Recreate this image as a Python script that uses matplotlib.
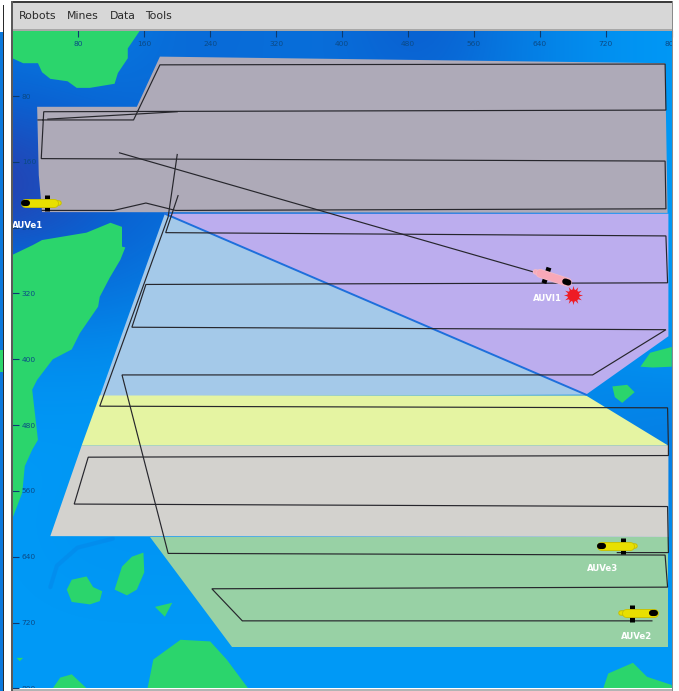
import numpy as np
import matplotlib
matplotlib.use("Agg")
import matplotlib.pyplot as plt
from matplotlib.colors import LinearSegmentedColormap
from matplotlib.patches import Polygon, Rectangle

WIDTH, HEIGHT = 679, 691
MAP_LEFT, MAP_TOP, MAP_RIGHT, MAP_BOTTOM = 12.4, 30.3, 671.7, 688.3

menu_items = ["Robots", "Mines", "Data", "Tools"]
menu_px = [19, 67, 110, 145]
tick_values = list(range(80, 801, 80))

# sea depth read every 100 map units, 0 = deep, 1 = shallow
depth = [
    [0.70, 0.80, 0.55, 0.60, 0.62, 0.40, 0.70, 0.90, 1.00],
    [0.45, 0.50, 0.60, 0.60, 0.60, 0.60, 0.70, 0.90, 1.00],
    [0.05, 0.42, 0.55, 0.60, 0.60, 0.60, 0.70, 0.90, 1.00],
    [0.70, 0.55, 0.72, 0.70, 0.70, 0.70, 0.75, 0.90, 1.00],
    [0.90, 0.90, 0.95, 0.90, 0.90, 0.90, 0.90, 0.90, 0.95],
    [1.00, 1.00, 1.00, 0.95, 0.95, 0.95, 0.95, 0.75, 0.70],
    [1.00, 0.95, 0.95, 0.95, 0.95, 0.95, 0.95, 0.90, 0.85],
    [1.00, 1.00, 1.00, 1.00, 1.00, 1.00, 1.00, 1.00, 1.00],
    [1.00, 1.00, 1.00, 1.00, 1.00, 1.00, 1.00, 1.00, 1.00],
]
trench = [(46, 677), (54, 651), (79, 629), (122, 618)]

land = [
    [(0, 34), (13, 40), (31, 40), (36, 51), (46, 59), (67, 62), (78, 70), (94, 70), (124, 65),
     (128, 52), (140, 34), (140, 22), (155, 0), (0, 0)],
    [(0, 273), (25, 261), (36, 255), (90, 246), (119, 234), (133, 239), (133, 263), (137, 264),
     (131, 279), (118, 301), (106, 324), (104, 336), (82, 368), (72, 388), (49, 400), (30, 425),
     (24, 437), (31, 498), (24, 510), (15, 530), (12, 562), (1, 591), (0, 591)],
    [(66, 680), (72, 668), (90, 664), (98, 677), (109, 682), (106, 694), (94, 698), (72, 695)],
    [(159, 635), (145, 640), (133, 652), (124, 680), (139, 687), (151, 680), (160, 659)],
    [(173, 701), (194, 696), (185, 713)],
    [(5, 763), (13, 763), (9, 767)],
    [(164, 800), (171, 765), (204, 741), (240, 743), (260, 765), (286, 800)],
    [(49, 800), (58, 787), (72, 783), (90, 800)],
    [(717, 800), (723, 782), (753, 769), (770, 786), (800, 796), (800, 800)],
    [(762, 409), (774, 392), (800, 385), (800, 409), (777, 410)],
    [(728, 433), (746, 431), (755, 440), (740, 453), (731, 446)],
]

zone_grey = [(179, 32), (792, 40), (795, 222), (36, 221), (32, 176), (30, 93), (151, 93)]
zone_purple = [(185, 223), (796, 223), (796, 372), (696, 443)]
zone_blue = [(185, 223), (696, 443), (106, 445)]
zone_yellow = [(106, 444), (696, 444), (796, 505), (84, 505)]
zone_light = [(84, 505), (796, 505), (796, 616), (46, 615)]
zone_green = [(167, 616), (796, 616), (796, 750), (267, 750)]
divider = [(185, 223), (696, 443)]

track_a = [(201, 201), (186, 246), (793, 250), (795, 307), (162, 309), (145, 361), (793, 364),
           (704, 419), (133, 419), (189, 636), (792, 638), (795, 677), (242, 679), (279, 718),
           (776, 718)]
track_b = [(200, 151), (189, 227), (106, 457), (795, 459), (796, 506), (796, 517), (92, 519),
           (75, 576), (795, 579), (796, 635), (734, 635)]
track_c = [(31, 109), (147, 109), (179, 42), (792, 41), (793, 97), (38, 99), (35, 156), (792, 159),
           (793, 217), (198, 219), (162, 210), (123, 219), (36, 219)]
track_d = [(43, 108), (200, 99)]
track_e = [(130, 149), (640, 296)]

vehicle_names = ["AUVe1", "AUVe3", "AUVe2", "AUVI1"]
vehicle_x = [42, 741, 752, 648]
vehicle_y = [210, 627, 709, 298]
vehicle_heading = [180, 180, 0, 18]
vehicle_colors = ["#e8e000", "#e8e000", "#e8e000", "#f8a8b8"]
vehicle_edges = ["#c8c000", "#c8c000", "#c8c000", "#f3b9c6"]
label_x = [18, 716, 757, 649]
label_y = [237, 654, 737, 326]

mine_x = [680]
mine_y = [322]


def add_zone(ax, points, color, z):
    ax.add_patch(Polygon(points, closed=True, facecolor=color, edgecolor="none", zorder=z))


def add_track(ax, points, lw=0.85):
    xs, ys = zip(*points)
    ax.plot(xs, ys, color="#26262c", lw=lw, solid_joinstyle="miter", zorder=5)


def add_vehicle(ax, x, y, heading, color, edge):
    h = np.deg2rad(heading)
    d = np.array([np.cos(h), np.sin(h)])
    n = np.array([-d[1], d[0]])
    c = np.array([x, y])
    nose = c + d * 27
    tail = c - d * 8
    end = c - d * 14
    ax.plot(*zip(c - n * 10, c + n * 10), color="black", lw=3.6, solid_capstyle="butt", zorder=6)
    ax.plot(*zip(tail, end), color=edge, lw=4.0, solid_capstyle="round", zorder=7)
    ax.plot(*zip(tail, end), color=color, lw=2.6, solid_capstyle="round", zorder=7)
    ax.plot(*zip(nose, tail), color=edge, lw=6.4, solid_capstyle="round", zorder=7)
    ax.plot(*zip(nose, tail), color=color, lw=5.2, solid_capstyle="round", zorder=8)
    ax.plot(*zip(c + d * 24, c + d * 28), color="black", lw=4.4, solid_capstyle="round", zorder=9)


def px_rect(fig, x0, y0, x1, y1, color):
    fig.patches.append(Rectangle((x0 / WIDTH, 1 - y1 / HEIGHT), (x1 - x0) / WIDTH, (y1 - y0) / HEIGHT,
                                 transform=fig.transFigure, facecolor=color, edgecolor="none",
                                 figure=fig))


fig = plt.figure(figsize=(WIDTH / 100, HEIGHT / 100), dpi=100, facecolor="white")
ax = fig.add_axes([MAP_LEFT / WIDTH, 1 - MAP_BOTTOM / HEIGHT,
                   (MAP_RIGHT - MAP_LEFT) / WIDTH, (MAP_BOTTOM - MAP_TOP) / HEIGHT])

sea = LinearSegmentedColormap.from_list("sea", ["#3a2a9a", "#0a62d2", "#0099f6"])
ax.imshow(depth, cmap=sea, vmin=0, vmax=1, extent=(-50, 850, 850, -50), interpolation="bicubic",
          aspect="auto", zorder=0)
ax.plot(*zip(*trench), color="#0a74dc", lw=3, alpha=0.25, solid_capstyle="round", zorder=0.5)
for island in land:
    add_zone(ax, island, "#2bd56c", 1)

add_zone(ax, zone_grey, "#aeaab8", 2)
add_zone(ax, zone_purple, "#bcadee", 2)
add_zone(ax, zone_blue, "#a4c9e9", 2)
add_zone(ax, zone_yellow, "#e5f4a2", 2)
add_zone(ax, zone_light, "#d3d2ce", 2)
add_zone(ax, zone_green, "#98d1a5", 2)
ax.plot(*zip(*divider), color="#1e6fdc", lw=1.4, zorder=3)

for track in [track_a, track_b, track_c, track_d, track_e]:
    add_track(ax, track)

for i, name in enumerate(vehicle_names):
    add_vehicle(ax, vehicle_x[i], vehicle_y[i], vehicle_heading[i], vehicle_colors[i], vehicle_edges[i])
    ax.text(label_x[i], label_y[i], name, color="white", fontsize=6.2, fontweight="bold", ha="center",
            va="center", zorder=10, clip_on=True)
ax.scatter(mine_x, mine_y, marker=(12, 1, 0), s=190, color="#ee1c25", linewidths=0, zorder=9)
ax.scatter(mine_x, mine_y, marker="o", s=75, color="#ee1c25", linewidths=0, zorder=9)

ax.set_xlim(0, 800)
ax.set_ylim(800, 0)
ax.set_xticks(tick_values)
ax.set_yticks(tick_values)
ax.xaxis.tick_top()
ax.tick_params(direction="in", length=5, width=0.8, color="#0b3a70", labelcolor="#0b4a86",
               labelsize=5.4)
ax.tick_params(axis="x", pad=-7.5)
ax.tick_params(axis="y", pad=-6.8)
for label in ax.get_xticklabels():
    label.set_va("top")
    label.set_clip_on(True)
    label.set_clip_box(ax.bbox)
for label in ax.get_yticklabels():
    label.set_ha("left")
    label.set_clip_on(True)
    label.set_clip_box(ax.bbox)
for spine in ax.spines.values():
    spine.set_visible(False)

# window frame round the map
px_rect(fig, 12, 3, 672, 30, "#d7d7d7")
px_rect(fig, 11, 1, 673, 3, "#3c3c3c")
px_rect(fig, 11, 1, 13, 691, "#5a5a5a")
px_rect(fig, 671.5, 1, 673, 691, "#8a8a8a")
px_rect(fig, 13, 29, 672, 30.5, "#a8a8a8")
px_rect(fig, 13, 688.5, 672, 691, "#b4b4b4")
# edge of the window behind
px_rect(fig, 0, 32, 3, 691, "#0a78dc")
px_rect(fig, 3, 5, 4, 691, "#2a2a2a")
px_rect(fig, 0, 350, 3, 372, "#2bd56c")

for item, x in zip(menu_items, menu_px):
    fig.text(x / WIDTH, 1 - 16 / HEIGHT, item, fontsize=7.8, color="#2a2a2a", ha="left", va="center")

fig.savefig("out.png", dpi=100)
